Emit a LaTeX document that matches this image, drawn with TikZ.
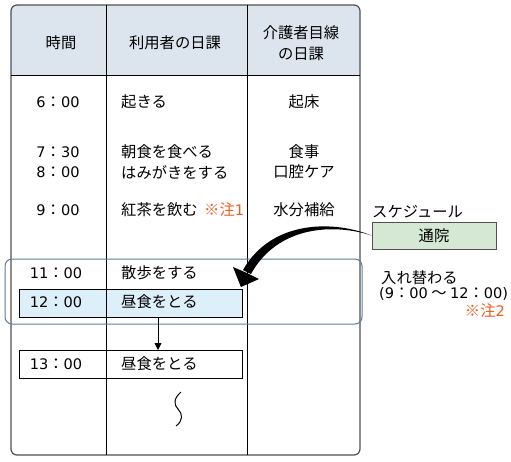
\documentclass[tikz,border=0pt]{standalone}
\usepackage{fontspec}
\setmainfont{Noto Sans CJK JP}
\newfontfamily\latf[Scale=0.95]{DejaVu Sans}
\newcommand\tmx[2]{{\latf #1}：{\latf #2}}
\usetikzlibrary{arrows.meta}
\definecolor{hdr}{HTML}{DCE5EE}
\definecolor{hl}{HTML}{DDEFF9}
\definecolor{grn}{HTML}{D5E8D4}
\definecolor{org}{HTML}{EE5B1E}
\definecolor{bluel}{HTML}{5E7C9B}
\definecolor{framec}{HTML}{505050}
\begin{document}
\begin{tikzpicture}[x=1pt,y=-1pt,
  txt/.style={font=\fontsize{15.3}{20.5}\selectfont, inner sep=0pt, align=center},
  ltxt/.style={txt, anchor=west},
  note/.style={ltxt, text=org},
  rowbox/.style={draw=black, line width=0.9pt, minimum width=223pt, minimum height=28pt, anchor=north west, inner sep=0pt},
]
\useasboundingbox (0,0) rectangle (511,461);
% header background
\begin{scope}
  \path[clip, rounded corners=6pt] (11,5) rectangle (360,455);
  \fill[hdr] (11,5) rectangle (360,75);
\end{scope}
% row boxes
\node[rowbox, fill=hl] (b12) at (19,289) {};
\node[rowbox, fill=white] (b13) at (19,350) {};
% frame and grid
\draw[framec, line width=1.2pt, rounded corners=6pt] (11,5) rectangle (360,455);
\draw[line width=0.9pt] (11,75) -- (360,75);
\draw[line width=0.9pt] (106,5) -- (106,455);
\draw[line width=0.9pt] (247,5) -- (247,455);
% swap highlight
\draw[bluel, line width=1pt, rounded corners=7pt] (5,259) rectangle (362,324);
% header texts
\node[txt] (h1) at (61,43) {時間};
\node[txt] (h2) at (175,43) {利用者の日課};
\node[txt] (h3) at (301,43) {介護者目線\\の日課};
% times
\node[txt] (t1) at (58,102) {\tmx{6}{00}};
\node[txt] (t2) at (58,152) {\tmx{7}{30}};
\node[txt] (t3) at (58,172) {\tmx{8}{00}};
\node[txt] (t4) at (58,210) {\tmx{9}{00}};
\node[txt] (t5) at (56,273) {\tmx{11}{00}};
\node[txt] (t6) at (56,302) {\tmx{12}{00}};
\node[txt] (t7) at (56,364) {\tmx{13}{00}};
% activities
\node[ltxt] (a1) at (121,102) {起きる};
\node[ltxt] (a2) at (121,152) {朝食を食べる};
\node[ltxt] (a3) at (121,172) {はみがきをする};
\node[ltxt] (a4) at (121,210) {紅茶を飲む};
\node[note] (n1) at (204,210) {※注{\latf 1}};
\node[ltxt] (a5) at (121,273) {散歩をする};
\node[ltxt] (a6) at (121,302) {昼食をとる};
\node[ltxt] (a7) at (121,364) {昼食をとる};
% care
\node[txt] (c1) at (304,102) {起床};
\node[txt] (c2) at (304,152) {食事};
\node[txt] (c3) at (304,172) {口腔ケア};
\node[txt] (c4) at (304,210) {水分補給};
% squiggle
\draw[line width=1pt] (181,392) .. controls (173,399) and (174,405) .. (178,409)
  .. controls (183,414) and (183,421) .. (176,426);
% arrow 12 -> 13
\coordinate (ax) at (158,0);
\draw[line width=0.9pt, -{Triangle[length=7pt,width=7pt]}] (b12.south -| ax) -- (b13.north -| ax);
% schedule box
\node[ltxt] (sch) at (372,212) {スケジュール};
\node[txt, draw=framec, fill=grn, line width=0.9pt, minimum width=124pt, minimum height=27pt] (ts) at (434,235.5) {通院};
% tapered curved arrow
\coordinate (tip) at ([shift={(-2,-2)}]b12.north east);
\fill (ts.west) .. controls (335,220.5) and (272,219) .. (243,270)
  -- (251,274) .. controls (278,225) and (335,223.5) .. (ts.west) -- cycle;
\fill (tip) -- (233,267) -- (247,273) -- (259,279) -- cycle;
% right labels
\node[ltxt, align=left, font=\fontsize{15.3}{15.5}\selectfont] (sw) at (379,285.5)
  {\hspace*{2pt}入れ替わる\\{\latf (9}：{\latf 00} ～ {\latf 12}：{\latf 00)}};
\node[txt, anchor=east, text=org] (n2) at (505,311) {※注{\latf 2}};
\end{tikzpicture}
\end{document}
